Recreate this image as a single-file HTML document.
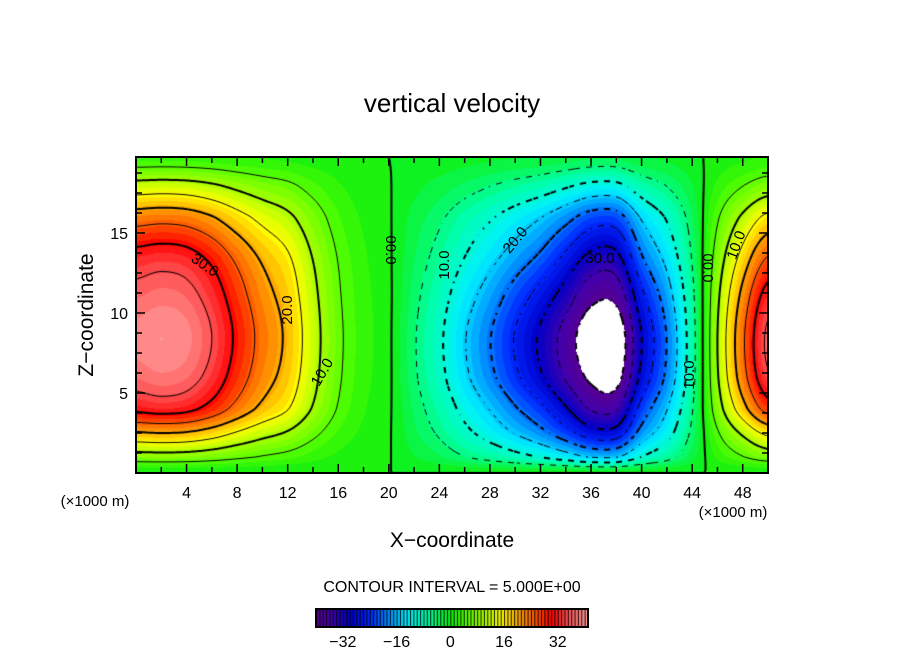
<!DOCTYPE html>
<html><head><meta charset="utf-8"><style>
body{margin:0;background:#fff;width:904px;height:654px;overflow:hidden;position:relative;font-family:"Liberation Sans",sans-serif}
canvas{position:absolute}
svg{position:absolute;left:0;top:0}
text{font-family:"Liberation Sans",sans-serif;fill:#000}
</style></head><body>
<canvas id="plot" width="632" height="316" style="left:136px;top:157px"></canvas>
<canvas id="cbar" width="272" height="18" style="left:316px;top:609px"></canvas>
<svg id="ov" width="904" height="654">
<text x="452" y="112" font-size="26" text-anchor="middle">vertical velocity</text>
<text x="452" y="547" font-size="21" text-anchor="middle">X−coordinate</text>
<text x="0" y="0" font-size="21" text-anchor="middle" transform="translate(93,315) rotate(-90)">Z−coordinate</text>
<text x="95" y="506" font-size="15" text-anchor="middle">(×1000 m)</text>
<text x="733" y="517" font-size="15" text-anchor="middle">(×1000 m)</text>
<text x="452" y="592" font-size="16" text-anchor="middle">CONTOUR INTERVAL = 5.000E+00</text>
<g id="labels" font-size="15"></g>
<g id="ticks"></g>
<rect x="136" y="157" width="632" height="316" fill="none" stroke="#000" stroke-width="2"/>
<rect x="316" y="609" width="272" height="18" fill="none" stroke="#000" stroke-width="2"/>
</svg>
<script>
const xs=[0,2,4,6,8,10,12,14,16,18,20,22,24,26,28,30,32,34,36,38,40,42,44,46,48,50];
const zs=[0,1,2.5,4,6,8.5,11,13.5,16,18,19.75];
const w=[
[0,0,0,0,0,0,0,0,0,0,0,0,0,0,0,0,0,0,0,0,0,0,0,0,0,0],
[7.8,8,7.8,7,5.8,4.7,3.8,2.4,1.2,.5,.1,-1.5,-3,-4.9,-6.5,-8.3,-10.2,-12.6,-15.2,-15.2,-9.9,-6.5,-2.3,2,4.8,7.2],
[19.5,20,19.5,17.5,14.5,11.7,9.5,6,3,1.2,.2,-2.8,-5.5,-8.8,-11.9,-15.2,-18.5,-22.9,-27.6,-27.6,-18,-11.9,-4.1,4.5,10.8,16.2],
[31.2,32,31.2,28,23.2,18.7,15.2,9.6,4.7,1.8,.3,-3.5,-7.1,-11.3,-15.2,-19.5,-23.7,-29.4,-35.4,-35.4,-23.1,-15.2,-5.3,7.5,18,27],
[37,38,37,33.2,27.5,22.2,18,11.4,5.6,2.2,.4,-4.4,-8.7,-14,-18.8,-24,-29.3,-35.5,-41,-42,-28.5,-18.8,-6.6,9.5,22.8,34.2],
[39,40,39,35,29,23.4,19,12,5.9,2.3,.4,-4.6,-9.2,-14.7,-19.8,-25.3,-30.8,-37,-43.5,-44,-30,-19.8,-6.9,10,24,36],
[36.7,37.6,36.7,32.9,27.3,22,17.9,11.3,5.5,2.2,.4,-4,-8.1,-12.9,-17.4,-22.3,-27.1,-32.5,-38.5,-38.5,-26.4,-17.4,-6.1,9,21.6,32.4],
[32,32.8,32,28.7,23.8,19.2,15.6,9.8,4.8,1.9,.3,-3.1,-6.3,-10,-13.5,-17.2,-20.9,-26,-31.3,-31.3,-20.4,-13.5,-4.7,7,16.8,25.2],
[22.6,23.2,22.6,20.3,16.8,13.6,11,7,3.4,1.3,.2,-2.2,-4.4,-7.1,-9.5,-12.1,-14.8,-18.3,-22.1,-22.1,-14.4,-9.5,-3.3,4.5,10.8,16.2],
[11.7,12,11.7,10.5,8.7,7,5.7,3.6,1.8,.7,.1,-1.1,-2.2,-3.5,-4.8,-6.1,-7.4,-9.2,-11,-11,-7.2,-4.8,-1.7,2,4.8,7.2],
[2.3,2.4,2.3,2.1,1.7,1.4,1.1,.7,.4,.1,0,-.3,-.6,-.9,-1.2,-1.5,-1.8,-2.3,-2.8,-2.8,-1.8,-1.2,-.4,.5,1.2,1.8]];
const xTicks=[4,8,12,16,20,24,28,32,36,40,44,48];
const zTicks=[5,10,15];
const cbTicks=[-32,-16,0,16,32];
const levels=[-40,-35,-30,-25,-20,-15,-10,-5,0,5,10,15,20,25,30,35];
const cLabels=[["30.0",205,265,35],["20.0",287,310,-90],["10.0",322,372,-60],["00.0",391,250,90],["10.0",444,265,-90],["20.0",515,240,-50],["30.0",600,258,0],["10.0",689,375,-90],["00.0",708,268,90],["10.0",736,245,-70]];

const X0=136,Y0=157,PW=632,PH=316,XMAX=50,ZMAX=19.75;
const sx=x=>X0+x/XMAX*PW, sz=z=>Y0+PH-z/ZMAX*PH;
const stops=[[-41,[90,0,140]],[-36,[70,0,170]],[-30,[0,0,200]],[-24,[0,40,255]],[-18,[0,150,255]],[-13,[0,240,255]],[-7,[0,255,170]],[0,[16,240,16]],[5,[90,255,0]],[10,[170,255,0]],[15,[255,255,0]],[20,[255,170,0]],[25,[255,90,0]],[30,[255,0,0]],[35,[255,80,80]],[41,[255,160,160]]];
function col(v){if(v<=stops[0][0])return stops[0][1];for(let i=1;i<stops.length;i++){if(v<=stops[i][0]){const a=stops[i-1],b=stops[i],t=(v-a[0])/(b[0]-a[0]);return a[1].map((c,k)=>Math.round(c+(b[1][k]-c)*t));}}return stops[stops.length-1][1];}
function cr(p0,p1,p2,p3,t){return 0.5*((2*p1)+(-p0+p2)*t+(2*p0-5*p1+4*p2-p3)*t*t+(-p0+3*p1-3*p2+p3)*t*t*t);}
function idx(arr,v){let i=0;while(i<arr.length-2&&v>arr[i+1])i++;return [i,(v-arr[i])/(arr[i+1]-arr[i])];}
const R=zs.length,C=xs.length;
function g(r,c){r=Math.max(0,Math.min(R-1,r));c=Math.max(0,Math.min(C-1,c));return w[r][c];}
function field(x,z){const [ci,ct]=idx(xs,x),[ri,rt]=idx(zs,z);const rows=[];for(let k=-1;k<3;k++){const r=ri+k;rows.push(cr(g(r,ci-1),g(r,ci),g(r,ci+1),g(r,ci+2),ct));}return cr(rows[0],rows[1],rows[2],rows[3],rt);}
const cv=document.getElementById('plot'),ctx=cv.getContext('2d');
const img=ctx.createImageData(PW,PH);
for(let py=0;py<PH;py++)for(let px=0;px<PW;px++){const v=field((px+.5)/PW*XMAX,(PH-py-.5)/PH*ZMAX);const q=Math.floor(v/1.6)*1.6+0.8;const c=v<-40?[255,255,255]:col(q);const o=(py*PW+px)*4;img.data[o]=c[0];img.data[o+1]=c[1];img.data[o+2]=c[2];img.data[o+3]=255;}
ctx.putImageData(img,0,0);
const S=2,NX=PW/S+1,NY=PH/S+1,F=[];
for(let j=0;j<NY;j++){F.push([]);for(let i=0;i<NX;i++)F[j].push(field(Math.min(i*S,PW)/PW*XMAX,(PH-Math.min(j*S,PH))/PH*ZMAX));}
levels.forEach(L=>{const thick=L%10===0;ctx.lineWidth=thick?2:1;ctx.strokeStyle='#000';ctx.beginPath();
for(let j=0;j<NY-1;j++)for(let i=0;i<NX-1;i++){const a=F[j][i],b=F[j][i+1],c=F[j+1][i+1],d=F[j+1][i];const pts=[];
const e=(v1,v2,x1,y1,x2,y2)=>{if((v1<L)!==(v2<L)){const t=(L-v1)/(v2-v1);pts.push([x1+(x2-x1)*t,y1+(y2-y1)*t]);}};
const x0=i*S,y0=j*S;e(a,b,x0,y0,x0+S,y0);e(b,c,x0+S,y0,x0+S,y0+S);e(c,d,x0+S,y0+S,x0,y0+S);e(d,a,x0,y0+S,x0,y0);
for(let k=0;k+1<pts.length;k+=2){const mx=(pts[k][0]+pts[k+1][0])/2,my=(pts[k][1]+pts[k+1][1])/2;if(L<0&&(Math.floor(mx/6)+Math.floor(my/6))%2)continue;ctx.moveTo(pts[k][0],pts[k][1]);ctx.lineTo(pts[k+1][0],pts[k+1][1]);}}
ctx.stroke();});
const cb=document.getElementById('cbar'),cc=cb.getContext('2d');
const CBL=-40,CBH=41;
for(let v=CBL;v<CBH;v+=1){const x=(v-CBL)/(CBH-CBL)*272,x2=(v+1-CBL)/(CBH-CBL)*272;const c=col(v+.5);cc.fillStyle=`rgb(${c[0]},${c[1]},${c[2]})`;cc.fillRect(x,0,x2-x+.5,18);cc.fillStyle='#000';cc.fillRect(x,0,1,18);}
const NS='http://www.w3.org/2000/svg';
const tk=document.getElementById('ticks'),lb=document.getElementById('labels'),ov=document.getElementById('ov');
function line(x1,y1,x2,y2,name){const l=document.createElementNS(NS,'line');l.setAttribute('x1',x1);l.setAttribute('y1',y1);l.setAttribute('x2',x2);l.setAttribute('y2',y2);l.setAttribute('stroke','#000');l.setAttribute('stroke-width',1.5);


tk.appendChild(l);}
function txt(s,x,y,size,anchor,name,parent){const t=document.createElementNS(NS,'text');t.textContent=s;t.setAttribute('x',x);t.setAttribute('y',y);t.setAttribute('font-size',size);t.setAttribute('text-anchor',anchor);


(parent||ov).appendChild(t);return t;}
for(let x=2;x<XMAX;x+=2){const len=(x%4===0)?9:6;line(sx(x),Y0,sx(x),Y0+len,'x-tick-top');line(sx(x),Y0+PH,sx(x),Y0+PH-len,'x-tick-bottom');}
for(let z=1.25;z<ZMAX;z+=1.25){const len=(z%5===0)?9:6;line(X0,sz(z),X0+len,sz(z),'y-tick-left');line(X0+PW,sz(z),X0+PW-len,sz(z),'y-tick-right');}
xTicks.forEach(x=>txt(String(x),sx(x),498,16,'middle','x-tick-label'));
zTicks.forEach(z=>txt(String(z),128,sz(z)+6,16,'end','y-tick-label'));
cbTicks.forEach(v=>txt(v<0?'−'+(-v):String(v),316+(v-CBL)/(CBH-CBL)*272,647,16,'middle','colorbar-tick-label'));
cLabels.forEach(c=>{const t=txt(c[0],0,0,15,'middle','contour-label',lb);t.setAttribute('transform',`translate(${c[1]},${c[2]}) rotate(${c[3]}) translate(0,5)`);});
</script>
</body></html>
